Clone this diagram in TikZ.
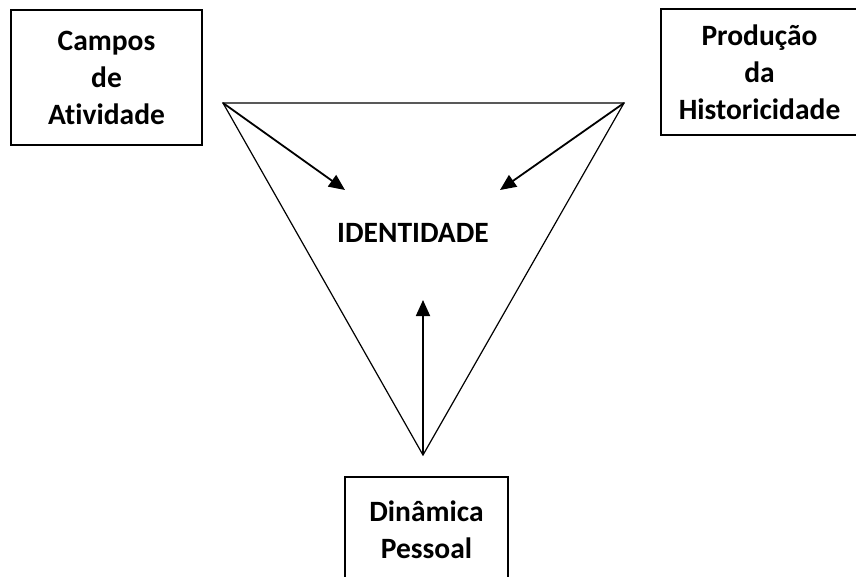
\documentclass[tikz,border=0pt]{standalone}
\usepackage{fontspec}
\setmainfont{Carlito}[Ligatures=NoCommon]
\usetikzlibrary{arrows.meta,positioning}
\tikzset{
  fieldbox/.style={
    draw, line width=1.6pt, inner sep=0pt, align=center,
    font=\fontsize{29.5}{37}\selectfont\bfseries
  },
  triline/.style={line width=1.2pt, line join=miter},
  pull/.style={-{Triangle[length=16pt,width=14pt]}, line width=1.8pt},
  core/.style={font=\fontsize{29.5}{37}\selectfont\bfseries, inner sep=0pt}
}
\begin{document}
\begin{tikzpicture}[x=1pt,y=-1pt]
  \useasboundingbox (0,0) rectangle (856,576);
  \clip (0,0) rectangle (856,576);
  % triangle corners
  \coordinate (ta) at (223,103);
  \coordinate (tb) at (624,103);
  \coordinate (tc) at (423,455);
  \draw[triline] (ta) -- (tb) -- (tc) -- cycle;
  % the three boxes
  \node[fieldbox, minimum width=191pt, minimum height=135pt] (campos) at (106.5,77.5) {Campos\\de\\Atividade};
  \node[fieldbox, minimum width=197pt, minimum height=126pt] (prod) at (759.5,72) {Produção\\da\\Historicidade};
  \node[fieldbox, minimum width=163pt, minimum height=105pt] (dina) at (426.5,529.5) {Dinâmica\\Pessoal};
  \node[core] (ident) at (413,233) {IDENTIDADE};
  % arrow ends
  \coordinate (ea) at (345,190);
  \coordinate (eb) at (500,190);
  \coordinate (ec) at (423,300);
  \draw[pull] (ta) -- (ea);
  \draw[pull] (tb) -- (eb);
  \draw[pull] (tc) -- (ec);
\end{tikzpicture}
\end{document}
